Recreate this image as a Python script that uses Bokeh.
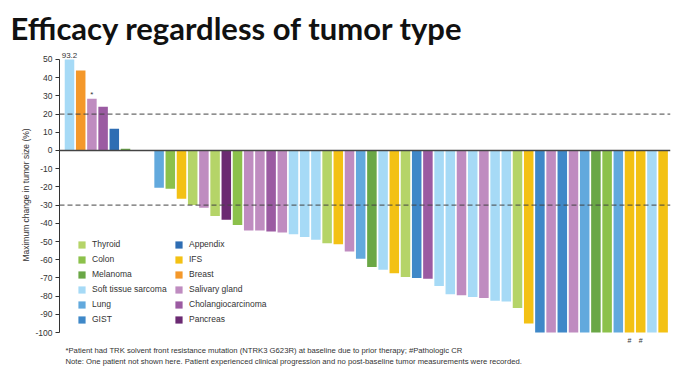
from bokeh.plotting import figure
from bokeh.models import Range1d, Span, Title, Legend, LegendItem, FixedTicker, ColumnDataSource
from bokeh.core.properties import value
from bokeh.embed import file_html
from bokeh.resources import INLINE
import numpy as np

# ---------------- data ----------------
categories = ["Thyroid", "Colon", "Melanoma", "Soft tissue sarcoma", "Lung", "GIST",
              "Appendix", "IFS", "Breast", "Salivary gland", "Cholangiocarcinoma", "Pancreas"]
cat_colors = ["#b5d468", "#8cc14b", "#6aa746", "#a6daf6", "#62a9dd", "#3f88c8",
              "#2e6db3", "#f3c114", "#f4982a", "#bf8cc0", "#9b5ba2", "#6b2a72"]

tumor = ["Soft tissue sarcoma", "Breast", "Salivary gland", "Cholangiocarcinoma", "Appendix", "Melanoma",
         "Thyroid", "Thyroid",
         "Lung", "Colon", "IFS", "Thyroid", "Salivary gland", "Thyroid", "Pancreas", "Colon",
         "Salivary gland", "Salivary gland", "Cholangiocarcinoma", "Salivary gland",
         "Soft tissue sarcoma", "Soft tissue sarcoma", "Soft tissue sarcoma", "Thyroid", "IFS",
         "Salivary gland", "Lung", "Melanoma", "Soft tissue sarcoma", "IFS", "Thyroid", "GIST",
         "Cholangiocarcinoma", "Soft tissue sarcoma", "Soft tissue sarcoma", "Salivary gland",
         "Soft tissue sarcoma", "Salivary gland", "Soft tissue sarcoma", "Soft tissue sarcoma",
         "Thyroid", "IFS", "GIST", "Salivary gland", "GIST", "Salivary gland", "Lung", "Melanoma",
         "Colon", "Lung", "IFS", "IFS", "Soft tissue sarcoma", "IFS"]
change = [93.2, 44, 28.5, 24, 12, 1,
          0, 0,
          -20.5, -21, -26.5, -30, -31.5, -36, -38, -41,
          -44, -44, -44.5, -45,
          -46, -47.5, -49, -51, -51.5,
          -55.5, -59.5, -64, -65.5, -67.5, -69.5, -70,
          -70.5, -74.5, -79, -79.5,
          -80.5, -81, -82.5, -83,
          -86.5, -95, -100, -100, -100, -100, -100, -100,
          -100, -100, -100, -100, -100, -100]
marks = ["", "", "*", "", "", "", "", "", "", "", "", "", "", "", "", "",
         "", "", "", "", "", "", "", "", "", "", "", "", "", "", "", "",
         "", "", "", "", "", "", "", "", "", "", "", "", "", "", "", "",
         "", "", "#", "#", "", ""]
y_ticks = [-100, -90, -80, -70, -60, -50, -40, -30, -20, -10, 0, 10, 20, 30, 40, 50]
ref_lines = [20, -30]
axis_max = 50

title_text = "Efficacy regardless of tumor type"
note1 = "*Patient had TRK solvent front resistance mutation (NTRK3 G623R) at baseline due to prior therapy; #Pathologic CR"
note2 = "Note: One patient not shown here. Patient experienced clinical progression and no post-baseline tumor measurements were recorded."

SANS = "Liberation Sans"

# ---------------- figure ----------------
idx = np.arange(len(change))
vals = np.array(change, dtype=float)
shown = np.minimum(vals, axis_max)

p = figure(width=672, height=372, output_backend="svg", toolbar_location=None,
           x_range=Range1d(-0.893, 53.66), y_range=Range1d(-106.04, 57.14),
           x_axis_location=None, min_border_left=59, min_border_right=2,
           min_border_top=46, min_border_bottom=29)
p.outline_line_color = None
p.grid.visible = False
p.background_fill_color = "white"
p.border_fill_color = "white"

renderers = {}
for cat, col in zip(categories, cat_colors):
    sel = [i for i, t in enumerate(tumor) if t == cat]
    src = ColumnDataSource(dict(x=idx[sel], top=shown[sel]))
    r = p.vbar(x="x", top="top", bottom=0, width=0.85, source=src,
               fill_color=col, line_color=None)
    renderers[cat] = r

for loc in ref_lines:
    p.add_layout(Span(location=loc, dimension="width", line_color="#444444",
                      line_dash="5 3", line_width=1))
p.add_layout(Span(location=0, dimension="width", line_color="#444444", line_width=1.5))

# annotations on bars
over = [i for i in idx if vals[i] > axis_max]
p.text(x=idx[over], y=shown[over], text=[f"{vals[i]:.1f}" for i in over],
       text_align="center", text_baseline="bottom", y_offset=-1,
       text_font=value(SANS), text_font_size="8px", text_color="#333333")
star = [i for i in idx if marks[i] == "*"]
p.text(x=idx[star], y=shown[star], text=[marks[i] for i in star],
       text_align="center", text_baseline="bottom", y_offset=0,
       text_font=value(SANS), text_font_size="8px", text_color="#333333")
hsh = [i for i in idx if marks[i] == "#"]
p.text(x=idx[hsh], y=shown[hsh], text=[marks[i] for i in hsh],
       text_align="center", text_baseline="top", y_offset=4,
       text_font=value(SANS), text_font_size="7px", text_color="#333333")

# y axis
ax = p.yaxis[0]
ax.ticker = FixedTicker(ticks=y_ticks)
ax.major_label_overrides = {t: str(t) for t in y_ticks}
ax.bounds = (y_ticks[0], y_ticks[-1])
ax.axis_label = "Maximum change in tumor size (%)"
ax.axis_label_text_font = SANS
ax.axis_label_text_font_style = "normal"
ax.axis_label_text_font_size = "8.5px"
ax.axis_label_text_color = "#333333"
ax.axis_label_standoff = 1
ax.major_label_text_font = SANS
ax.major_label_text_font_size = "8.5px"
ax.major_label_text_color = "#333333"
ax.major_label_standoff = 3
ax.major_tick_in = 0
ax.major_tick_out = 4
ax.minor_tick_in = 0
ax.minor_tick_out = 0
ax.axis_line_color = "#333333"
ax.major_tick_line_color = "#333333"

# legend: two columns
def make_legend(cats, loc):
    lg = Legend(items=[LegendItem(label=c, renderers=[renderers[c]]) for c in cats],
                location=loc, orientation="vertical", border_line_color=None,
                background_fill_alpha=0, padding=0, margin=0, spacing=5,
                glyph_width=9, glyph_height=9, label_standoff=6, label_height=10,
                label_text_font=SANS, label_text_font_size="8.5px",
                label_text_color="#333333")
    p.add_layout(lg, "center")

make_legend(categories[:6], (18, 19))
make_legend(categories[6:], (115, 19))

# title & notes
p.title.text = title_text
p.title.align = "left"
p.title.offset = -49
p.title.standoff = 0
p.title.text_font = "Lato"
p.title.text_font_style = "bold"
p.title.text_font_size = "31px"
p.title.text_color = "#111111"

for t in [note1, note2]:
    p.add_layout(Title(text=t, align="left", offset=6, standoff=0,
                       text_font=SANS, text_font_style="normal",
                       text_font_size="7.7px", text_color="#333333"), "below")

open("out.html", "w").write(file_html(p, INLINE))
